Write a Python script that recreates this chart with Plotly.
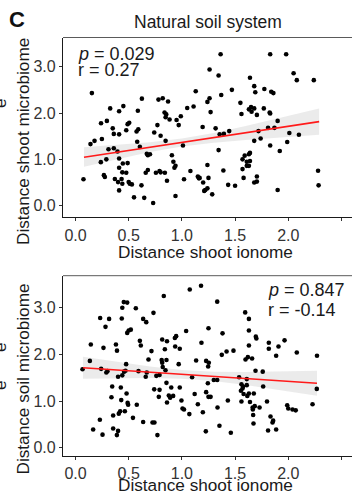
import plotly.graph_objects as go

W, H = 352, 497

# ---- Natural soil system: shoot ionome vs shoot microbiome distances ----
shoot_ionome_a = [
    0.075, 0.141, 0.179, 0.154, 0.24, 0.295, 0.248, 0.238, 0.29, 0.267, 0.276, 0.326,
    0.35, 0.36, 0.31, 0.36, 0.41, 0.45, 0.41, 0.395, 0.41, 0.37, 0.41, 0.40, 0.41,
    0.433, 0.44, 0.445, 0.44, 0.49, 0.477, 0.50, 0.51, 0.53, 0.477, 0.49, 0.505, 0.55,
    0.586, 0.574, 0.59, 0.58, 0.605, 0.624, 0.62, 0.646, 0.66, 0.68, 0.67, 0.68, 0.70,
    0.73, 0.74, 0.77, 0.756, 0.78, 0.79, 0.80, 0.80, 0.82, 0.837, 0.847, 0.853, 0.847,
    0.84, 0.86, 0.87, 0.884, 0.906, 0.92, 0.93, 0.94, 0.94, 0.95, 0.97, 0.99, 1.01,
    1.02, 1.05, 1.08, 1.11, 1.13, 1.15, 1.16, 1.167, 1.195, 1.20, 1.22, 1.21, 1.24,
    1.24, 1.25, 1.285, 1.26, 1.26, 1.24, 1.27, 1.317, 1.345, 1.364, 1.37, 1.345, 1.355,
    1.395, 1.39, 1.435, 1.445, 1.47, 1.50, 1.55, 1.56, 1.59, 1.63, 1.64, 1.57, 1.61,
    1.64, 1.61, 1.63, 1.57, 1.58, 1.64, 1.63, 1.65, 1.655, 1.68, 1.68, 1.69, 1.705,
    1.68, 1.705, 1.705, 1.68, 1.74, 1.72, 1.775, 1.77, 1.825, 1.83, 1.83, 1.84, 1.86,
    1.81, 1.87, 1.83, 1.90, 1.92, 1.90, 1.98, 1.99, 2.01, 2.10, 2.05, 2.08, 2.24,
    2.28, 2.285,
]
shoot_microbiome = [
    0.57, 1.33, 1.40, 2.43, 1.78, 1.83, 1.44, 0.94, 1.00, 0.66, 0.62, 2.10,
    1.67, 1.55, 1.22, 1.24, 2.04, 2.15, 1.54, 1.17, 1.02, 0.575, 0.82, 0.51, 0.33,
    0.575, 0.475, 0.91, 0.72, 0.92, 0.71, 0.51, 0.475, 0.46, 1.63, 1.76, 1.79, 0.18,
    2.05, 1.60, 1.65, 1.38, 1.27, 2.31, 0.44, 0.17, 0.71, 0.77, 1.12, 1.09, 1.11,
    0.06, 1.58, 1.74, 0.71, 2.29, 0.75, 0.72, 1.51, 2.32, 2.01, 1.91, 1.97, 1.40,
    0.71, 0.54, 2.25, 1.86, 1.09, 0.95, 0.82, 0.86, 0.21, 1.85, 1.74, 1.93, 1.30,
    0.57, 2.11, 0.75, 2.14, 2.47, 0.63, 0.59, 0.60, 1.70, 0.50, 0.34, 0.32, 0.375,
    0.88, 0.60, 0.245, 2.94, 2.32, 2.24, 2.02, 1.67, 2.81, 3.27, 2.39, 1.20, 1.54,
    1.55, 0.76, 0.45, 1.61, 2.50, 0.43, 2.22, 1.98, 1.08, 1.11, 1.14, 1.00, 0.95,
    0.965, 0.86, 0.86, 0.79, 0.60, 2.76, 2.08, 2.13, 2.03, 2.10, 2.58, 2.45, 1.96,
    0.50, 0.52, 0.63, 1.40, 1.45, 1.61, 2.52, 2.10, 2.01, 1.99, 3.27, 2.46, 2.43,
    1.68, 1.68, 1.30, 1.83, 1.18, 0.34, 3.27, 1.375, 1.57, 1.53, 2.86, 2.71, 2.71,
    0.755, 0.44,
]

# ---- shoot ionome vs soil microbiome distances ----
shoot_ionome_b = [
    0.066, 0.135, 0.144, 0.166, 0.229, 0.232, 0.254, 0.263, 0.241, 0.282, 0.29, 0.30,
    0.316, 0.338, 0.345, 0.354, 0.354, 0.38, 0.39, 0.389, 0.40, 0.40, 0.407, 0.42,
    0.426, 0.43, 0.435, 0.44, 0.454, 0.486, 0.44, 0.457, 0.47, 0.464, 0.476, 0.48,
    0.49, 0.495, 0.486, 0.50, 0.52, 0.54, 0.567, 0.576, 0.592, 0.605, 0.614, 0.636,
    0.665, 0.636, 0.66, 0.67, 0.686, 0.714, 0.724, 0.742, 0.733, 0.74, 0.76, 0.79,
    0.77, 0.783, 0.79, 0.81, 0.815, 0.82, 0.815, 0.83, 0.84, 0.846, 0.855, 0.86,
    0.855, 0.86, 0.877, 0.89, 0.918, 0.90, 0.934, 0.946, 0.937, 0.97, 0.98, 0.98,
    0.996, 1.006, 1.02, 1.04, 1.07, 1.074, 1.096, 1.12, 1.134, 1.15, 1.18, 1.184,
    1.197, 1.225, 1.25, 1.244, 1.25,
    1.332, 1.382, 1.42, 1.375, 1.485, 1.228, 1.253, 1.247, 1.30, 1.332, 1.228, 1.27,
    1.335, 1.353, 1.46, 1.432, 1.538, 1.56, 1.575, 1.57, 1.555, 1.58, 1.56, 1.61,
    1.61, 1.598, 1.62, 1.66, 1.595, 1.63, 1.63, 1.63, 1.695, 1.70, 1.615, 1.63, 1.64,
    1.676, 1.665, 1.685, 1.667, 1.67, 1.673, 1.692, 1.76, 1.764, 1.80, 1.73, 1.817,
    1.817, 1.908, 1.886, 1.965, 1.833, 1.858, 1.852, 1.81, 1.886, 1.99, 2.00, 2.04,
    2.07, 2.08, 2.228, 2.27, 2.268,
]
soil_microbiome = [
    1.68, 1.86, 2.21, 0.39, 0.60, 2.78, 0.28, 2.14, 1.69, 2.59, 1.61, 1.64,
    2.76, 1.08, 1.31, 0.69, 0.41, 2.21, 2.08, 0.27, 0.36, 1.52, 0.73, 0.78,
    1.29, 1.02, 2.77, 3.00, 3.12, 3.11, 1.55, 1.63, 1.65, 0.78, 1.79, 1.16,
    0.96, 0.92, 2.46, 2.51, 2.53, 0.64, 2.99, 0.92, 1.64, 2.29, 2.19, 2.76,
    2.69, 0.55, 1.52, 1.61, 1.89, 2.07, 0.54, 0.54, 2.89, 1.25, 1.54, 1.56,
    0.27, 1.09, 1.24, 1.88, 1.82, 1.73, 2.32, 3.25, 2.11, 1.66, 1.88, 2.28,
    1.39, 0.97, 1.12, 1.07, 1.11, 1.29, 2.35, 2.39, 2.17, 1.79, 2.12, 1.29,
    1.01, 0.84, 0.82, 2.50, 0.72, 3.39, 1.51, 1.15, 1.87, 0.93, 3.47, 2.25,
    0.76, 0.35, 2.56, 1.38, 1.09,
    3.13, 2.45, 2.06, 1.99, 2.08, 1.86, 1.82, 1.74, 1.45, 1.45, 1.19, 1.09,
    0.86, 0.47, 0.32, 1.01, 1.51, 1.36, 1.31, 1.27, 1.22, 1.15, 0.99, 1.47,
    1.34, 1.89, 1.94, 1.91, 2.90, 2.76, 2.51, 2.19, 2.38, 2.34, 1.11, 1.16, 0.98,
    1.16, 0.86, 0.89, 0.82, 0.70, 0.52, 1.65, 1.63, 1.31, 0.99, 0.86, 2.25,
    2.12, 2.17, 1.97, 2.30, 0.67, 0.58, 0.54, 0.37, 0.39, 0.91, 0.84, 0.82,
    0.80, 2.04, 0.93, 1.97, 1.26,
]

# linear fits with 95% confidence bands
fit_x_a = [0.08, 2.29]
fit_y_a = [1.046, 1.813]
band_x_a = [0.08, 0.4, 0.7, 1.0, 1.3, 1.6, 1.9, 2.29]
band_lo_a = [0.84, 1.01, 1.16, 1.28, 1.36, 1.42, 1.47, 1.53]
band_hi_a = [1.26, 1.31, 1.37, 1.45, 1.57, 1.72, 1.88, 2.10]

fit_x_b = [0.07, 2.27]
fit_y_b = [1.713, 1.381]
band_x_b = [0.07, 0.4, 0.7, 1.0, 1.3, 1.6, 1.9, 2.27]
band_lo_b = [1.475, 1.489, 1.494, 1.480, 1.428, 1.342, 1.244, 1.115]
band_hi_b = [1.951, 1.839, 1.742, 1.666, 1.628, 1.622, 1.630, 1.647]

stats_a = ["<i>p</i> = 0.029", "r = 0.27"]
stats_b = ["<i>p</i> = 0.847", "r = -0.14"]

x_ticks = [0.0, 0.5, 1.0, 1.5, 2.0, 2.5]
y_ticks = [0.0, 1.0, 2.0, 3.0]

FONT = "Liberation Sans, Arial, Helvetica, sans-serif"


def fx(px):
    return px / W


def fy(py):
    return 1 - py / H


fig = go.Figure()

panels = [
    (shoot_ionome_a, shoot_microbiome, fit_x_a, fit_y_a, band_x_a, band_lo_a, band_hi_a, "x", "y"),
    (shoot_ionome_b, soil_microbiome, fit_x_b, fit_y_b, band_x_b, band_lo_b, band_hi_b, "x2", "y2"),
]
for xs, ys, fxs, fys, bx, blo, bhi, xa, ya in panels:
    fig.add_trace(go.Scatter(
        x=bx + bx[::-1], y=bhi + blo[::-1], fill="toself", mode="lines",
        line=dict(width=0), fillcolor="rgba(200,200,200,0.36)",
        hoverinfo="skip", showlegend=False, xaxis=xa, yaxis=ya))
    fig.add_trace(go.Scatter(
        x=xs, y=ys, mode="markers",
        marker=dict(color="black", size=4.6, line=dict(width=0)),
        showlegend=False, xaxis=xa, yaxis=ya))
    fig.add_trace(go.Scatter(
        x=fxs, y=fys, mode="lines", line=dict(color="#ff1a1a", width=1.7),
        showlegend=False, xaxis=xa, yaxis=ya))

axis_common = dict(
    showgrid=False, zeroline=False, showline=True, linecolor="#1a1a1a", linewidth=1.2,
    ticks="outside", ticklen=3, tickwidth=1, tickcolor="#333333",
    tickfont=dict(family=FONT, size=16, color="#333333"),
)
x_dom = [fx(63), 1.0]
fig.update_layout(
    width=W, height=H, margin=dict(l=0, r=0, t=0, b=0),
    paper_bgcolor="white", plot_bgcolor="white",
    xaxis=dict(domain=x_dom, range=[-0.1175, 2.599], tickvals=x_ticks,
               ticktext=[f"{v:.1f}" for v in x_ticks], anchor="y", **axis_common),
    yaxis=dict(domain=[fy(217.3), fy(37.5)], range=[-0.25, 3.63], tickvals=y_ticks,
               ticktext=[f"{v:.1f}" for v in y_ticks], anchor="x", **axis_common),
    xaxis2=dict(domain=x_dom, range=[-0.1175, 2.599], tickvals=x_ticks,
                ticktext=[f"{v:.1f}" for v in x_ticks], anchor="y2", **axis_common),
    yaxis2=dict(domain=[fy(456), fy(275.7)], range=[-0.178, 3.686], tickvals=y_ticks,
                ticktext=[f"{v:.1f}" for v in y_ticks], anchor="x2", **axis_common),
    font=dict(family=FONT),
)

# top border of each panel
for top in (37.5, 275.7):
    fig.add_shape(type="line", xref="paper", yref="paper",
                  x0=fx(63), x1=1.0, y0=fy(top), y1=fy(top),
                  line=dict(color="#5a5a5a", width=1))

ann = []


def text(t, x, y, size, xanchor="center", angle=0, color="#1a1a1a", bold=False):
    if bold:
        t = f"<b>{t}</b>"
    ann.append(dict(text=t, x=fx(x), y=fy(y), xref="paper", yref="paper",
                    xanchor=xanchor, yanchor="middle", showarrow=False,
                    textangle=angle, font=dict(family=FONT, size=size, color=color)))


text("C", 17, 19, 22, bold=True, color="#111111")
text("Natural soil system", 207.5, 21.5, 17.5)

text(stats_a[0], 76, 54, 18, xanchor="left")
text(stats_a[1], 76, 70, 18, xanchor="left")
text(stats_b[0], 266, 290, 18, xanchor="left")
text(stats_b[1], 266, 310, 18, xanchor="left")

text("Distance shoot ionome", 205.5, 251.5, 17.2)
text("Distance shoot ionome", 205.5, 485, 17.2)
text("Distance shoot microbiome", 22.5, 141.5, 17.2, angle=-90)
text("Distance soil microbiome", 22.5, 379, 17.2, angle=-90)

# label fragments of the neighbouring panels at the left edge
text("e", 0, 103, 17.2, angle=-90)
text("e", 0, 347, 17.2, angle=-90)
text("e", 0, 385, 17.2, angle=-90)

fig.update_layout(annotations=ann)
fig.write_html("out.html")
